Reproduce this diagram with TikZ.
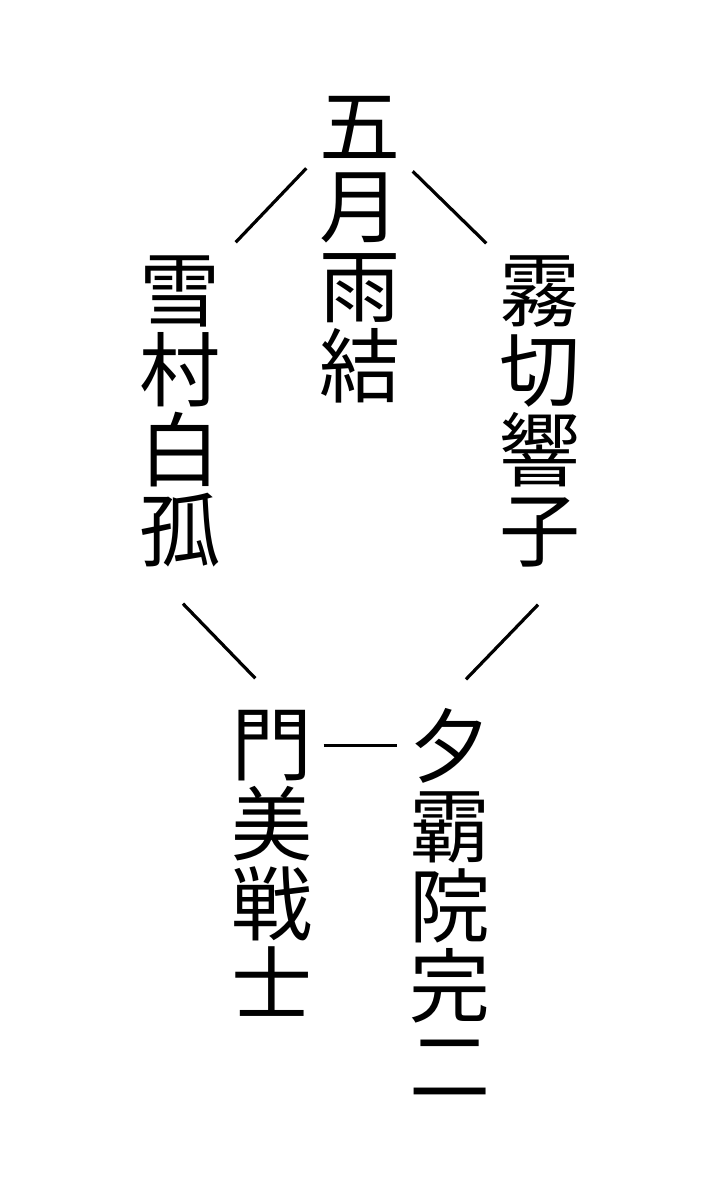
\documentclass[tikz,border=0pt]{standalone}
\usepackage{fontspec}
\newfontfamily\cjk{Noto Sans CJK JP}
\usetikzlibrary{calc}
\newcommand\kstrut{\rule[-0.12em]{0pt}{1em}}
\tikzset{
  meibo/.style={font=\cjk\fontsize{81}{80}\selectfont, align=center, inner sep=0pt},
  sen/.style={line width=3.2pt}
}

\begin{document}
\begin{tikzpicture}[x=1pt,y=1pt]
	%%%%% START %%%%%
	
	\useasboundingbox[fill=white] (0,0) rectangle (722,-1186);
	
	\node[meibo] (satsuki) at (360,-246) {\kstrut{}五\\月\\雨\\結\kstrut};
	\node[meibo] (yukimura) at (180,-410) {\kstrut{}雪\\村\\白\\孤\kstrut};
	\node[meibo] (kirigiri) at (540,-410) {\kstrut{}霧\\切\\響\\子\kstrut};
	\node[meibo] (kadomi) at (272,-864) {\kstrut{}門\\美\\戦\\士\kstrut};
	\node[meibo] (yuhain) at (450,-906) {\kstrut{}夕\\霸\\院\\完\\二\kstrut};
	
	\draw[sen] ($(satsuki.north west)+(-13,-83)$) -- ($(yukimura.north east)+(15,7)$);
	\draw[sen] ($(satsuki.north east)+(12,-86)$) -- ($(kirigiri.north west)+(-13,6)$);
	
	\draw[sen] ($(yukimura.south)+(3,-33)$) -- ($(kadomi.north west)+(24,25)$);
	\draw[sen] ($(kirigiri.south)+(-2,-34)$) -- ($(yuhain.north)+(16,26)$);
	
	\draw[sen] ($(kadomi.north east)+(11,-42)$) -- ($(yuhain.north west)+(-12,-40)$);
	
	%%%%% END %%%%%
\end{tikzpicture}
\end{document}
